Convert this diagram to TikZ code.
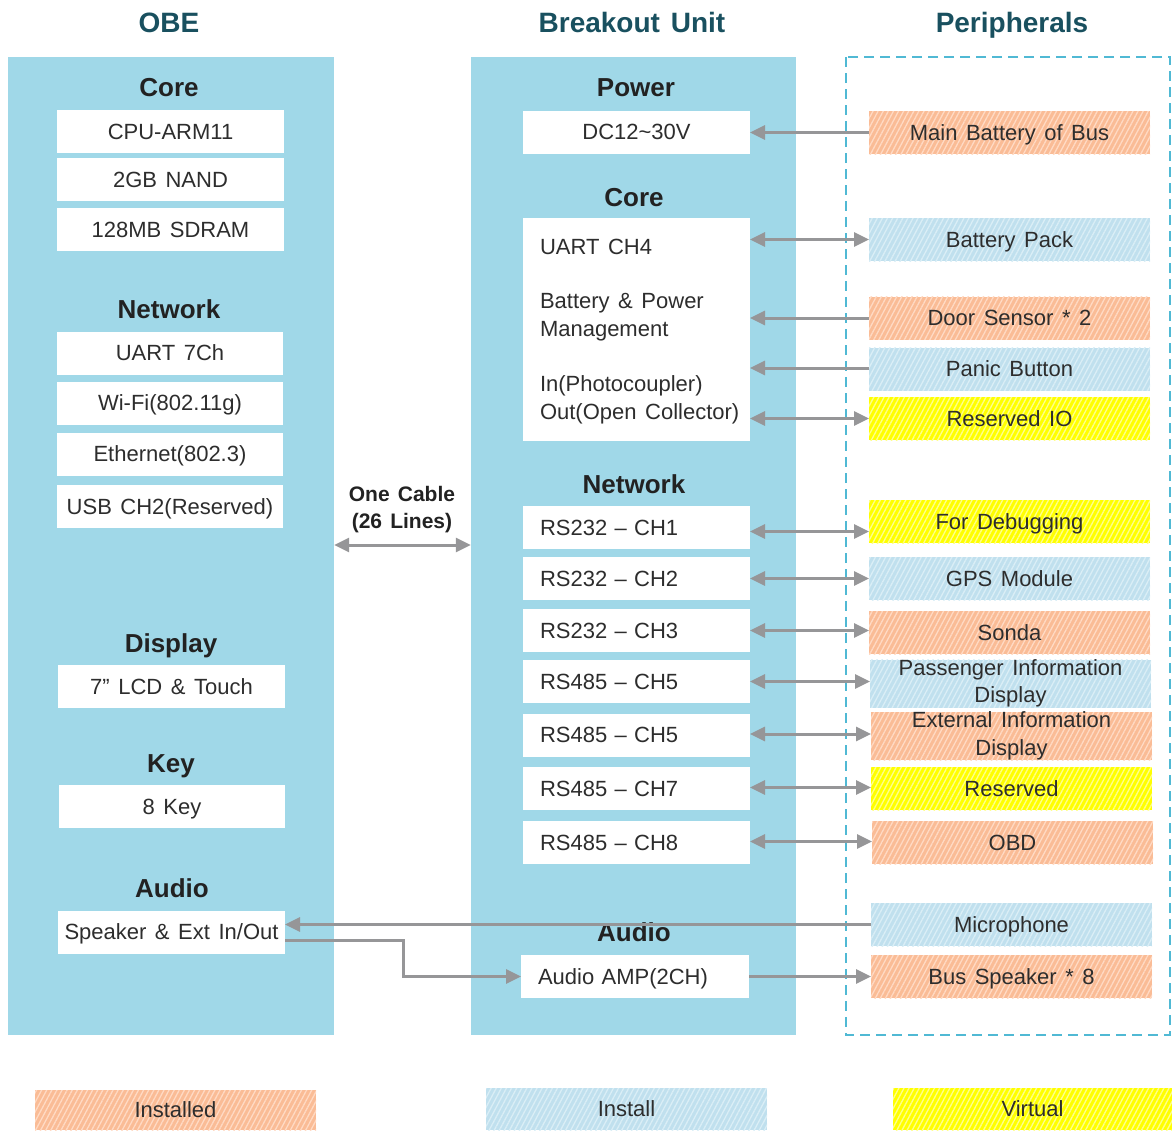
\documentclass[tikz,border=0pt]{standalone}
\usepackage{fontspec}
\setmainfont[WordSpace=1.4]{Liberation Sans}
\usetikzlibrary{patterns.meta,arrows.meta}
\definecolor{panel}{RGB}{160,216,232}
\definecolor{hdrc}{RGB}{25,80,95}
\definecolor{sec}{RGB}{34,34,34}
\definecolor{txt}{RGB}{45,45,45}
\definecolor{arrgray}{RGB}{150,150,152}
\definecolor{dashc}{RGB}{80,185,212}
\definecolor{orfill}{RGB}{250,188,150}
\definecolor{orline}{RGB}{255,218,196}
\definecolor{blfill}{RGB}{192,224,238}
\definecolor{blline}{RGB}{218,238,246}
\definecolor{yefill}{RGB}{255,255,0}
\definecolor{yeline}{RGB}{255,255,140}
\tikzset{
  base/.style={font=\fontsize{22}{27.5}\selectfont, text=txt, inner sep=0pt, outer sep=0pt},
  one/.style={text height=15.8pt, text depth=0pt},
  wbox/.style={base, one, fill=white, minimum width=227pt, minimum height=43pt},
  lbox/.style={wbox, text width=193pt, inner xsep=17pt, align=left},
  sect/.style={font=\fontsize{26}{30}\selectfont\bfseries, text=sec, inner sep=0pt, text height=18.6pt, text depth=0pt},
  hdr/.style={font=\fontsize{28}{32}\selectfont\bfseries, text=hdrc, inner sep=0pt, text height=20pt, text depth=0pt},
  pbox/.style={base, minimum width=281pt, minimum height=43pt, align=center},
  hatch/.style={postaction={pattern={Lines[angle=62,distance=4.5pt,line width=1.3pt]}, pattern color=#1}},
  inst/.style={pbox, fill=orfill, hatch=orline},
  inl/.style={pbox, fill=blfill, hatch=blline},
  virt/.style={pbox, fill=yefill, hatch=yeline},
  panelbox/.style={fill=panel, inner sep=0pt, minimum height=978pt},
  arr/.style={draw=arrgray, line width=3pt, -{Triangle[length=15pt,width=14pt]}},
  arrb/.style={draw=arrgray, line width=3pt, {Triangle[length=15pt,width=14pt]}-{Triangle[length=15pt,width=14pt]}}
}
\begin{document}
\begin{tikzpicture}[x=1pt,y=-1pt]
\useasboundingbox (0,0) rectangle (1172,1130);
% headers
\node[hdr] (hobe) at (169,22) {OBE};
\node[hdr] (hbu) at (632,22) {Breakout Unit};
\node[hdr] (hper) at (1012,22) {Peripherals};
% panels
\node[panelbox, minimum width=326pt] (obe) at (171,546) {};
\node[panelbox, minimum width=325pt] (bu) at (633.5,546) {};
\draw[dashc, line width=2pt, dash pattern=on 10pt off 6pt] (846,57) rectangle (1170,1035);
% OBE content
\node[sect] (s1) at (169,87) {Core};
\node[wbox] (cpu) at (170.5,131.5) {CPU-ARM11};
\node[wbox] (nand) at (170.5,179.5) {2GB NAND};
\node[wbox] (sdram) at (170.5,229.5) {128MB SDRAM};
\node[sect] (s2) at (169,309) {Network};
\node[wbox, minimum width=226pt] (uart) at (170,353) {UART 7Ch};
\node[wbox, minimum width=226pt] (wifi) at (170,403) {Wi-Fi(802.11g)};
\node[wbox, minimum width=226pt] (eth) at (170,454) {Ethernet(802.3)};
\node[wbox, minimum width=226pt] (usb) at (170,506.5) {USB CH2(Reserved)};
\node[sect] (s3) at (171,643) {Display};
\node[wbox] (lcd) at (171.5,686.5) {7” LCD \& Touch};
\node[sect] (s4) at (171,763) {Key};
\node[wbox, minimum width=226pt] (key) at (172,806.5) {8 Key};
\node[sect] (s5) at (172,888) {Audio};
\node[wbox] (spk) at (171.5,932) {Speaker \& Ext In/Out};
% Breakout unit content
\node[sect] (b1) at (636,87) {Power};
\node[wbox] (dc) at (636.5,132) {DC12\textasciitilde30V};
\node[sect] (b2) at (634,197) {Core};
\node[wbox, minimum height=223pt] (bcore) at (636.5,329.5) {};
\node[base, anchor=west] (c1) at (540,247) {UART CH4};
\node[base, anchor=west, align=left] (c2) at (540,317) {Battery \& Power\\Management};
\node[base, anchor=west, align=left] (c3) at (540,400) {In(Photocoupler)\\Out(Open Collector)};
\node[sect] (b3) at (634,484) {Network};
\node[lbox] (rs1) at (636.5,527.5) {RS232 – CH1};
\node[lbox] (rs2) at (636.5,578.5) {RS232 – CH2};
\node[lbox] (rs3) at (636.5,630.5) {RS232 – CH3};
\node[lbox] (rs4) at (636.5,681.5) {RS485 – CH5};
\node[lbox] (rs5) at (636.5,735) {RS485 – CH5};
\node[lbox] (rs6) at (636.5,788.5) {RS485 – CH7};
\node[lbox] (rs7) at (636.5,842.5) {RS485 – CH8};
\node[sect] (b4) at (634,932) {Audio};
\node[lbox, text width=194pt] (amp) at (635,976.5) {Audio AMP(2CH)};
% peripherals
\node[inst, one] (mbat) at (1009.5,132.5) {Main Battery of Bus};
\node[inl, one] (bpack) at (1009.5,239.5) {Battery Pack};
\node[inst, one] (door) at (1009.5,318) {Door Sensor * 2};
\node[inl, one] (panic) at (1009.5,369) {Panic Button};
\node[virt, one] (rio) at (1009.5,418.5) {Reserved IO};
\node[virt, one] (dbg) at (1009.5,521.5) {For Debugging};
\node[inl, one] (gps) at (1009.5,578.5) {GPS Module};
\node[inst, one] (sonda) at (1009.5,632.5) {Sonda};
\node[inl] (pid) at (1010.5,683.5) {\raisebox{-3pt}{Passenger Information}\\\raisebox{-3pt}{Display}};
\node[inst] (eid) at (1011.5,736) {\raisebox{-2pt}{External Information}\\\raisebox{-2pt}{Display}};
\node[virt, one] (res) at (1011.5,788.5) {Reserved};
\node[inst, one] (obd) at (1012.5,842.5) {OBD};
\node[inl, one] (mic) at (1011.5,924.5) {Microphone};
\node[inst, one] (bspk) at (1011.5,976.5) {Bus Speaker * 8};
% legend
\node[inst, one, minimum height=40pt] (lg1) at (175.5,1110) {Installed};
\node[inl, one, minimum height=42pt] (lg2) at (626.5,1109) {Install};
\node[virt, one, minimum height=42pt, minimum width=279pt] (lg3) at (1032.5,1109) {Virtual};
% one cable
\node[font=\fontsize{21}{27}\selectfont\bfseries, text=sec, align=center, inner sep=0pt] (cablelbl) at (402,510) {One Cable\\(26 Lines)};
\coordinate (cab) at (402,545);
\draw[arrb] (cab -| obe.east) -- (cab -| bu.west);
% connectors
\draw[arr] (mbat.west) -- (mbat.west -| dc.east);
\draw[arrb] (bpack.west -| bcore.east) -- (bpack.west);
\draw[arr] (door.west) -- (door.west -| bcore.east);
\draw[arr] ([yshift=1pt]panic.west) -- ([yshift=1pt]panic.west -| bcore.east);
\draw[arrb] (rio.west -| bcore.east) -- (rio.west);
\draw[arrb] ([yshift=-4pt]rs1.east) -- ([yshift=-4pt]rs1.east -| dbg.west);
\draw[arrb] (rs2.east) -- (rs2.east -| gps.west);
\draw[arrb] (rs3.east) -- (rs3.east -| sonda.west);
\draw[arrb] (rs4.east) -- (rs4.east -| pid.west);
\draw[arrb] ([yshift=1pt]rs5.east) -- ([yshift=1pt]rs5.east -| eid.west);
\draw[arrb] ([yshift=1pt]rs6.east) -- ([yshift=1pt]rs6.east -| res.west);
\draw[arrb] ([yshift=1pt]rs7.east) -- ([yshift=1pt]rs7.east -| obd.west);
\draw[arr] (mic.west) -- (mic.west -| spk.east);
\draw[arr] ([yshift=-8pt]spk.east) -- ++(118,0) |- (amp.west);
\draw[arr] (amp.east) -- (amp.east -| bspk.west);
\end{tikzpicture}
\end{document}
